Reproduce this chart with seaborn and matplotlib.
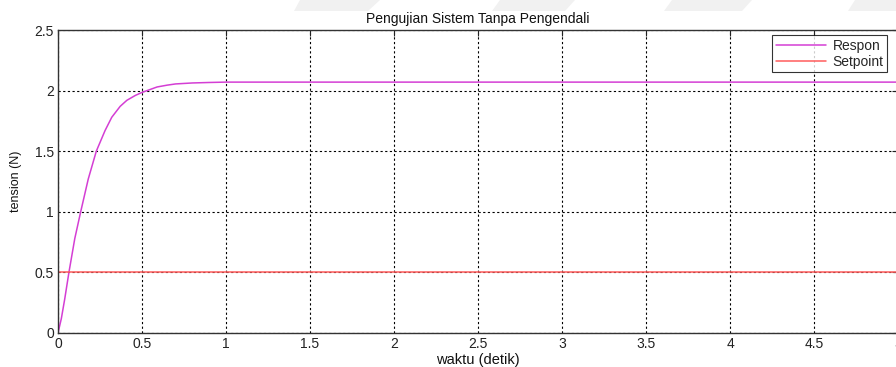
import numpy as np
import pandas as pd
import matplotlib
matplotlib.use("Agg")
import matplotlib.pyplot as plt
import seaborn as sns
from matplotlib.patches import Polygon

# Data
waktu = [0.0, 0.02, 0.04, 0.065, 0.1, 0.135, 0.18, 0.228, 0.28, 0.32, 0.37, 0.41,
         0.46, 0.5, 0.55, 0.59, 0.65, 0.7, 0.8, 0.9, 1.0, 1.5, 2.0, 3.0, 4.0, 5.0]
respon = [0.0, 0.12, 0.28, 0.5, 0.78, 1.0, 1.27, 1.5, 1.67, 1.78, 1.87, 1.92,
          1.96, 1.985, 2.01, 2.03, 2.045, 2.055, 2.063, 2.067, 2.07, 2.07, 2.07, 2.07, 2.07, 2.07]
setpoint_t = [0.0, 5.0]
setpoint = [0.5, 0.5]

series_names = ["Respon", "Setpoint"]
x_ticks = [0, 0.5, 1, 1.5, 2, 2.5, 3, 3.5, 4, 4.5, 5]
x_ticklabels = ["0", "0.5", "1", "1.5", "2", "2.5", "3", "3.5", "4", "4.5", "5"]
y_ticks = [0, 0.5, 1, 1.5, 2, 2.5]
y_ticklabels = ["0", "0.5", "1", "1.5", "2", "2.5"]

df = pd.concat([
    pd.DataFrame({"waktu": waktu, "value": respon, "series": series_names[0]}),
    pd.DataFrame({"waktu": setpoint_t, "value": setpoint, "series": series_names[1]}),
], ignore_index=True)

sns.set_style("white")
plt.rcParams["font.family"] = ["Liberation Sans", "DejaVu Sans"]

fig = plt.figure(figsize=(8.96, 3.67), dpi=100)
fig.patch.set_facecolor("white")

# faint watermark shapes at the very top of the page
for xs in [(300, 380, 368, 294), (500, 575, 565, 492), (672, 752, 742, 664), (855, 905, 898, 848)]:
    pts = [(xs[0] / 896, 1.0), (xs[1] / 896, 1.0), (xs[2] / 896, 1 - 11 / 367), (xs[3] / 896, 1 - 11 / 367)]
    fig.patches.append(Polygon(pts, closed=True, transform=fig.transFigure,
                               facecolor="#f1f1f1", edgecolor="none", zorder=-5))

ax = fig.add_axes([58 / 896, 1 - 333 / 367, 840 / 896, (333 - 30) / 367])
ax.set_facecolor("white")

sns.lineplot(data=df, x="waktu", y="value", hue="series",
             palette={"Respon": "#d43ed4", "Setpoint": "#ff5c5c"},
             linewidth=1.1, ax=ax, estimator=None, sort=False)

ax.set_xlim(0, 5)
ax.set_ylim(0, 2.5)
ax.set_xticks(x_ticks)
ax.set_xticklabels(x_ticklabels)
ax.set_yticks(y_ticks)
ax.set_yticklabels(y_ticklabels)
ax.grid(True, color="black", linestyle=(0, (2, 2.2)), linewidth=0.8)
ax.set_axisbelow(True)
for s in ax.spines.values():
    s.set_visible(True)
    s.set_color("#333333")
    s.set_linewidth(1.0)
ax.tick_params(direction="in", length=4, top=True, right=True, labelsize=10,
               colors="#222222", pad=3)

ax.set_title("Pengujian Sistem Tanpa Pengendali", fontsize=10, pad=5, color="#111111")
ax.set_xlabel("waktu (detik)", fontsize=10.5, labelpad=1, color="#111111")
ax.set_ylabel("tension (N)", fontsize=9, labelpad=9, color="#111111")

leg = ax.legend(loc="upper right", bbox_to_anchor=(0.987, 0.983),
                frameon=True, fancybox=False, fontsize=10, handlelength=3.6,
                borderpad=0.25, labelspacing=0.15, handletextpad=0.5, borderaxespad=0.0)
leg.get_frame().set_edgecolor("black")
leg.get_frame().set_linewidth(0.8)
leg.set_title(None)

fig.savefig("out.png", dpi=100)
